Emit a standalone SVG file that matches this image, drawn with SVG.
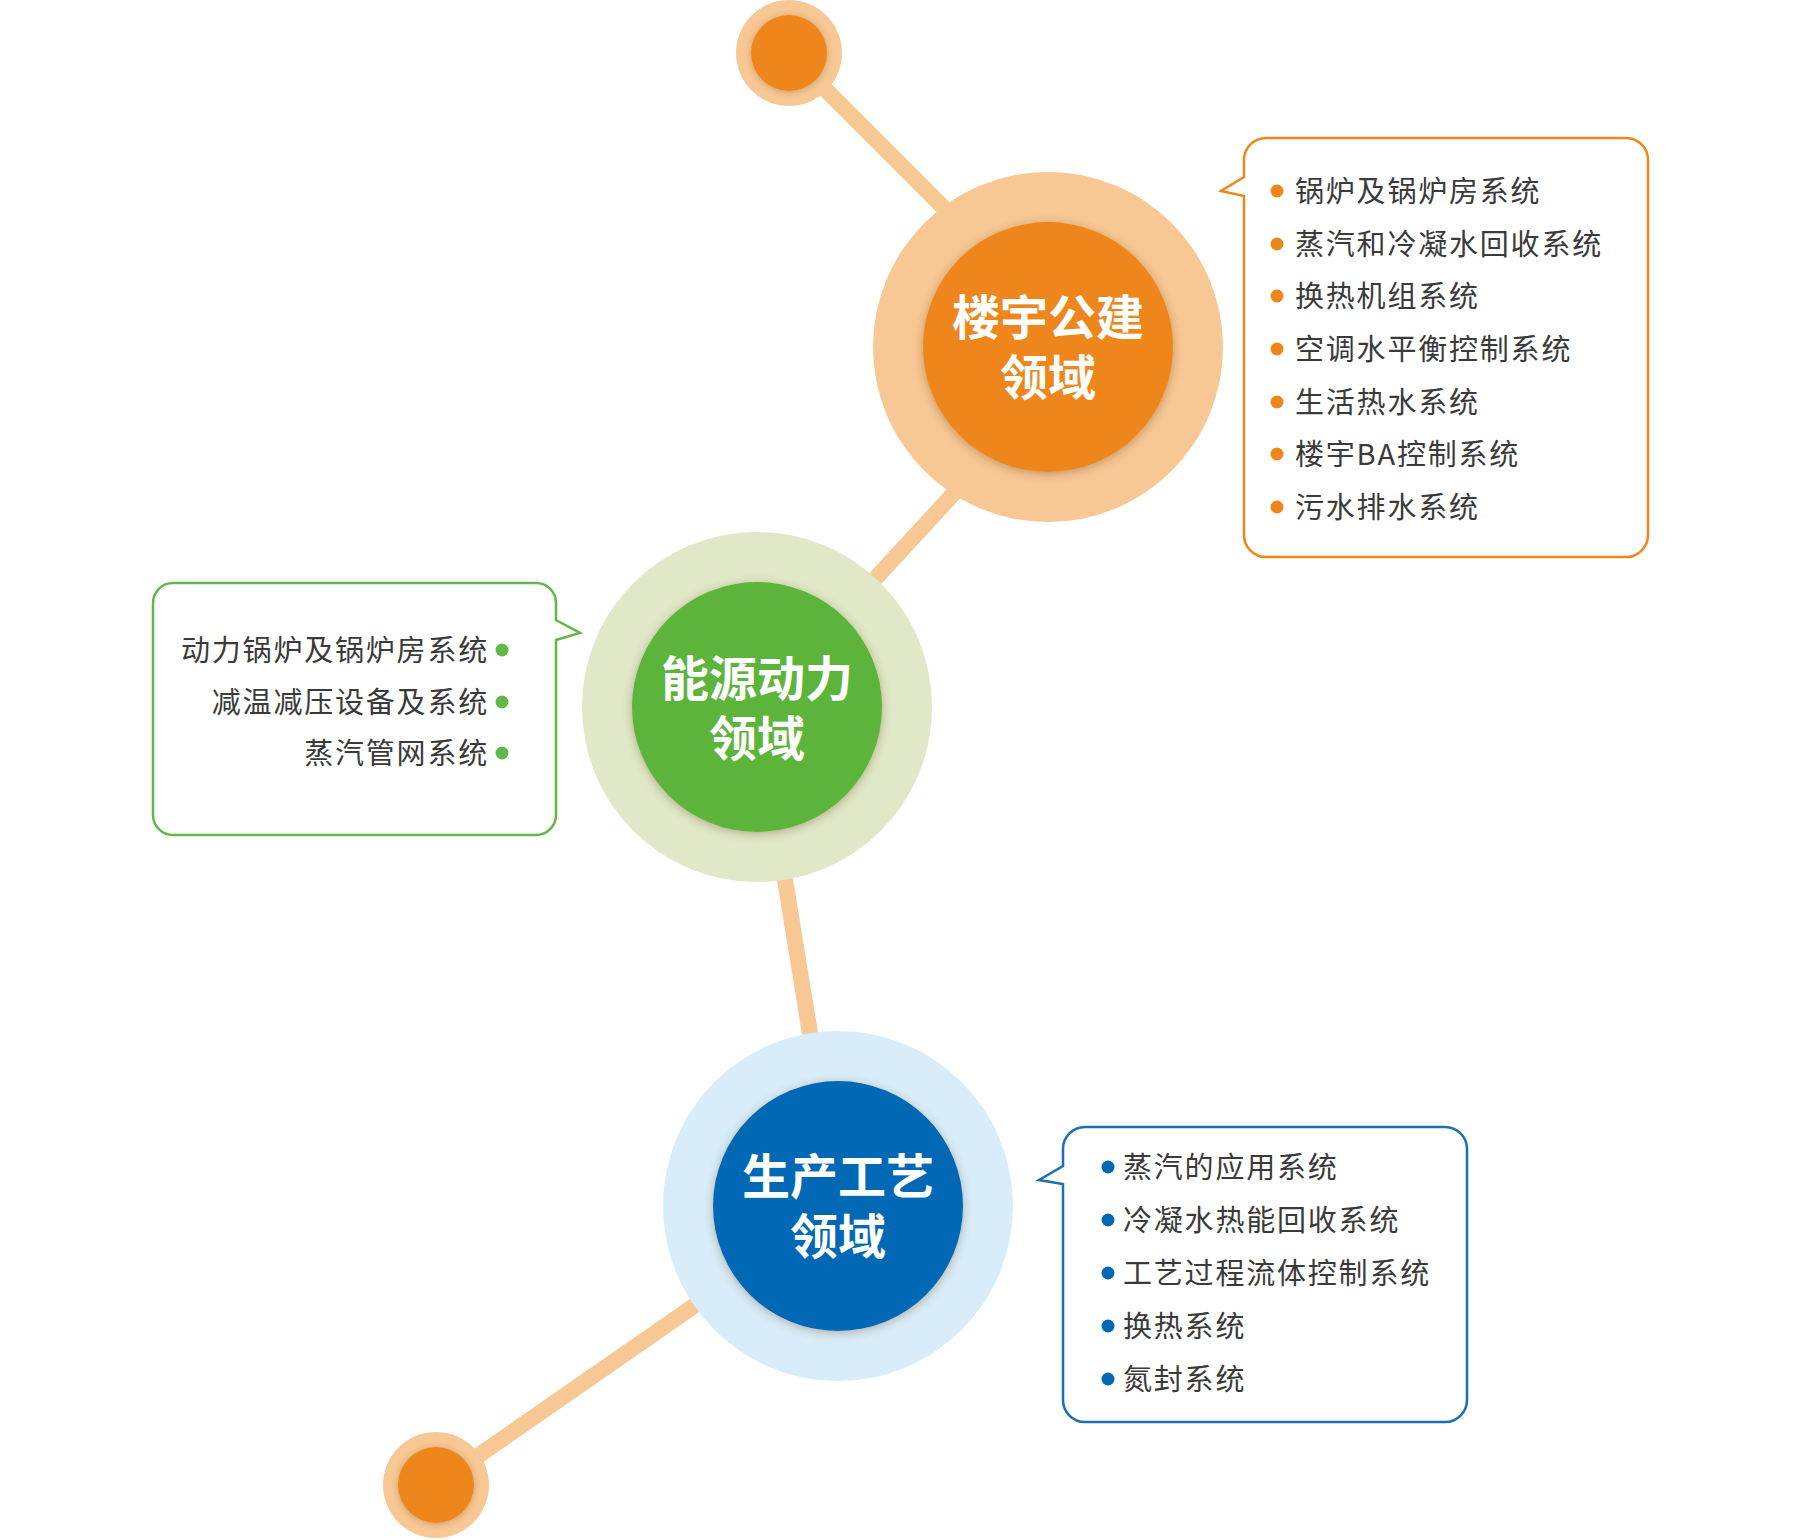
<svg xmlns="http://www.w3.org/2000/svg" width="1800" height="1540" viewBox="0 0 1800 1540">
  <defs>
    <filter id="sh" x="-20%" y="-20%" width="140%" height="140%">
      <feDropShadow dx="0" dy="2" stdDeviation="5" flood-color="#5a3a20" flood-opacity="0.35"/>
    </filter>
    <filter id="shs" x="-30%" y="-30%" width="160%" height="160%">
      <feDropShadow dx="0" dy="1" stdDeviation="3" flood-color="#5a3a20" flood-opacity="0.3"/>
    </filter>
  </defs>
  <style>
    .conn { fill: none; stroke: #f7c794; stroke-width: 16; stroke-linejoin: round; stroke-linecap: round; }
    .title { font-family: "Noto Sans CJK SC", "Noto Sans", sans-serif; font-weight: 700; font-size: 48px; fill: #ffffff; text-anchor: middle; }
    .item { font-family: "Noto Sans CJK SC", "Noto Sans", sans-serif; font-size: 29px; fill: #3a3a3a; letter-spacing: 1.8px; }
    .end { text-anchor: end; }
    .box { fill: #ffffff; stroke-width: 2.5; }
    .peach { fill: #f7c794; }
    .orange { fill: #ef861a; }
  </style>

  <rect width="1800" height="1540" fill="#ffffff"/>

  <g id="connectors">
    <polyline class="conn" points="789,53 1086,350 757,707 838,1206 436,1485"/>
  </g>

  <g id="node-top-dot">
    <circle class="peach" cx="789" cy="53" r="53"/>
    <circle class="orange" cx="789" cy="53" r="38" filter="url(#shs)"/>
  </g>

  <g id="node-building">
    <circle class="peach" cx="1048" cy="347" r="175"/>
    <circle class="orange" cx="1048" cy="347" r="125" filter="url(#sh)"/>
    <text class="title" x="1048" y="335">楼宇公建<tspan x="1048" dy="60">领域</tspan></text>
  </g>

  <g id="node-energy">
    <circle cx="757" cy="707" r="175" fill="#e0e8c8"/>
    <circle cx="757" cy="707" r="125" fill="#5db43a" filter="url(#sh)"/>
    <text class="title" x="757" y="696">能源动力<tspan x="757" dy="60">领域</tspan></text>
  </g>

  <g id="node-process">
    <circle cx="838" cy="1206" r="175" fill="#d8edf9"/>
    <circle cx="838" cy="1206" r="125" fill="#0068b5" filter="url(#sh)"/>
    <text class="title" x="838" y="1194">生产工艺<tspan x="838" dy="60">领域</tspan></text>
  </g>

  <g id="node-bottom-dot">
    <circle class="peach" cx="436" cy="1485" r="53"/>
    <circle class="orange" cx="436" cy="1485" r="38" filter="url(#shs)"/>
  </g>

  <g id="callout-building">
    <path class="box" stroke="#ef861a" d="M1266,138 H1626 A22,22 0 0 1 1648,160 V535 A22,22 0 0 1 1626,557 H1266 A22,22 0 0 1 1244,535 V196 L1221,191 L1244,177 V160 A22,22 0 0 1 1266,138 Z"/>
    <g fill="#ef861a">
      <circle cx="1277" cy="191" r="6.5"/>
      <circle cx="1277" cy="244" r="6.5"/>
      <circle cx="1277" cy="296" r="6.5"/>
      <circle cx="1277" cy="349" r="6.5"/>
      <circle cx="1277" cy="402" r="6.5"/>
      <circle cx="1277" cy="454" r="6.5"/>
      <circle cx="1277" cy="507" r="6.5"/>
    </g>
    <text class="item" x="1295" y="202">锅炉及锅炉房系统</text>
    <text class="item" x="1295" y="255">蒸汽和冷凝水回收系统</text>
    <text class="item" x="1295" y="307">换热机组系统</text>
    <text class="item" x="1295" y="360">空调水平衡控制系统</text>
    <text class="item" x="1295" y="413">生活热水系统</text>
    <text class="item" x="1295" y="465">楼宇BA控制系统</text>
    <text class="item" x="1295" y="518">污水排水系统</text>
  </g>

  <g id="callout-energy">
    <path class="box" stroke="#62b846" d="M173,583 H536 A20,20 0 0 1 556,603 V620 L580,633 L556,640 V815 A20,20 0 0 1 536,835 H173 A20,20 0 0 1 153,815 V603 A20,20 0 0 1 173,583 Z"/>
    <g fill="#62b846">
      <circle cx="502" cy="650" r="6.5"/>
      <circle cx="502" cy="702" r="6.5"/>
      <circle cx="502" cy="753" r="6.5"/>
    </g>
    <text class="item end" x="489" y="661">动力锅炉及锅炉房系统</text>
    <text class="item end" x="489" y="713">减温减压设备及系统</text>
    <text class="item end" x="489" y="764">蒸汽管网系统</text>
  </g>

  <g id="callout-process">
    <path class="box" stroke="#1a6fb7" d="M1085,1127 H1445 A22,22 0 0 1 1467,1149 V1400 A22,22 0 0 1 1445,1422 H1085 A22,22 0 0 1 1063,1400 V1184 L1039,1180 L1063,1166 V1149 A22,22 0 0 1 1085,1127 Z"/>
    <g fill="#0068b5">
      <circle cx="1108" cy="1167" r="6.5"/>
      <circle cx="1108" cy="1220" r="6.5"/>
      <circle cx="1108" cy="1273" r="6.5"/>
      <circle cx="1108" cy="1326" r="6.5"/>
      <circle cx="1108" cy="1379" r="6.5"/>
    </g>
    <text class="item" x="1123" y="1178">蒸汽的应用系统</text>
    <text class="item" x="1123" y="1231">冷凝水热能回收系统</text>
    <text class="item" x="1123" y="1284">工艺过程流体控制系统</text>
    <text class="item" x="1123" y="1337">换热系统</text>
    <text class="item" x="1123" y="1390">氮封系统</text>
  </g>
</svg>
